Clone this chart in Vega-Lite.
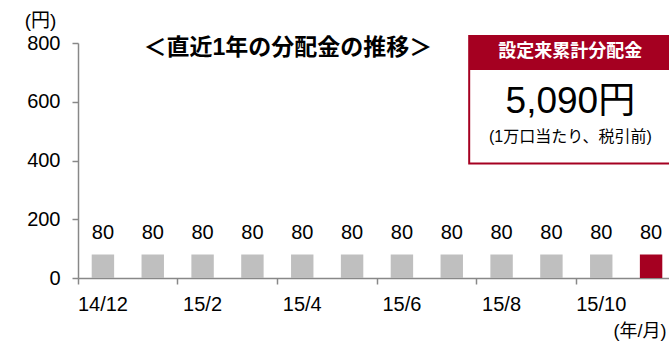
{
  "$schema": "https://vega.github.io/schema/vega-lite/v6.json",
  "autosize": "none",
  "padding": {"left": 78, "top": 43, "right": 0, "bottom": 65},
  "width": 591,
  "height": 235,
  "background": "white",
  "config": {"view": {"stroke": null}, "font": "Liberation Sans, Noto Sans CJK JP"},
  "data": {"values": [
    {"month": "14/12", "value": 80},
    {"month": "15/1", "value": 80},
    {"month": "15/2", "value": 80},
    {"month": "15/3", "value": 80},
    {"month": "15/4", "value": 80},
    {"month": "15/5", "value": 80},
    {"month": "15/6", "value": 80},
    {"month": "15/7", "value": 80},
    {"month": "15/8", "value": 80},
    {"month": "15/9", "value": 80},
    {"month": "15/10", "value": 80},
    {"month": "15/11", "value": 80}
  ]},
  "layer": [
    {
      "mark": {"type": "bar", "width": {"band": 0.45}},
      "encoding": {
        "x": {
          "field": "month", "type": "ordinal", "sort": null,
          "scale": {
            "domain": ["14/12","15/1","15/2","15/3","15/4","15/5","15/6","15/7","15/8","15/9","15/10","15/11"],
            "range": [0, 598], "paddingInner": 0, "paddingOuter": 0
          },
          "axis": {
            "values": ["14/12","15/2","15/4","15/6","15/8","15/10"],
            "bandPosition": 0, "labelOffset": 0, "labelAngle": 0,
            "tickSize": 6, "labelPadding": 10, "labelFontSize": 20, "labelColor": "#000",
            "domainColor": "#888", "tickColor": "#888", "domainWidth": 1.5, "tickWidth": 1.5,
            "labelFlush": false, "labelOverlap": false,
            "title": "(年/月)", "titleAngle": 0, "titleX": 588, "titleY": 53,
            "titleAlign": "right", "titleBaseline": "middle", "titleFontSize": 18,
            "titleFontWeight": "normal", "titleColor": "#000"
          }
        },
        "y": {
          "field": "value", "type": "quantitative",
          "scale": {"domain": [0, 800], "nice": false, "zero": true},
          "axis": {
            "values": [0, 200, 400, 600, 800], "grid": false,
            "tickSize": 6, "labelPadding": 12, "labelFontSize": 20, "labelColor": "#000",
            "domainColor": "#888", "tickColor": "#888", "domainWidth": 1.5, "tickWidth": 1.5,
            "title": "(円)", "titleAngle": 0, "titleX": -38, "titleY": -23,
            "titleAlign": "center", "titleBaseline": "middle", "titleFontSize": 19,
            "titleFontWeight": "normal", "titleColor": "#000"
          }
        },
        "color": {"condition": {"test": "datum.month === '15/11'", "value": "#A50021"}, "value": "#BFBFBF"}
      }
    },
    {
      "mark": {"type": "text", "fontSize": 20, "baseline": "middle", "dy": -22, "color": "#000"},
      "encoding": {
        "x": {"field": "month", "type": "ordinal", "sort": null},
        "y": {"field": "value", "type": "quantitative"},
        "text": {"field": "value", "type": "quantitative"}
      }
    },
    {
      "data": {"values": [{"t": "box"}]},
      "mark": {"type": "rect", "fill": "white", "stroke": "#A50021", "strokeWidth": 2},
      "encoding": {
        "x": {"datum": "15/7", "type": "ordinal", "bandPosition": 0.85},
        "x2": {"datum": "15/11", "bandPosition": 0.9},
        "y": {"datum": 824, "type": "quantitative"},
        "y2": {"datum": 390}
      }
    },
    {
      "data": {"values": [{"t": "header"}]},
      "mark": {"type": "rect", "fill": "#A50021"},
      "encoding": {
        "x": {"datum": "15/7", "type": "ordinal", "bandPosition": 0.85},
        "x2": {"datum": "15/11", "bandPosition": 0.9},
        "y": {"datum": 824, "type": "quantitative"},
        "y2": {"datum": 708}
      }
    },
    {
      "data": {"values": [{"t": "設定来累計分配金"}]},
      "mark": {"type": "text", "fontSize": 18, "fontWeight": "bold", "color": "white", "baseline": "middle"},
      "encoding": {
        "x": {"datum": "15/9", "type": "ordinal", "bandPosition": 0.88},
        "y": {"datum": 768, "type": "quantitative"},
        "text": {"field": "t"}
      }
    },
    {
      "data": {"values": [{"t": "5,090円"}]},
      "mark": {"type": "text", "fontSize": 37, "color": "#000", "baseline": "middle"},
      "encoding": {
        "x": {"datum": "15/9", "type": "ordinal", "bandPosition": 0.88},
        "y": {"datum": 600, "type": "quantitative"},
        "text": {"field": "t"}
      }
    },
    {
      "data": {"values": [{"t": "(1万口当たり、税引前)"}]},
      "mark": {"type": "text", "fontSize": 16, "color": "#000", "baseline": "middle"},
      "encoding": {
        "x": {"datum": "15/9", "type": "ordinal", "bandPosition": 0.88},
        "y": {"datum": 480, "type": "quantitative"},
        "text": {"field": "t"}
      }
    },
    {
      "data": {"values": [{"t": "＜直近1年の分配金の推移＞"}]},
      "mark": {"type": "text", "fontSize": 23, "fontWeight": "bold", "color": "#000", "baseline": "middle"},
      "encoding": {
        "x": {"datum": "15/4", "type": "ordinal", "bandPosition": 0.21},
        "y": {"datum": 783, "type": "quantitative"},
        "text": {"field": "t"}
      }
    }
  ]
}
